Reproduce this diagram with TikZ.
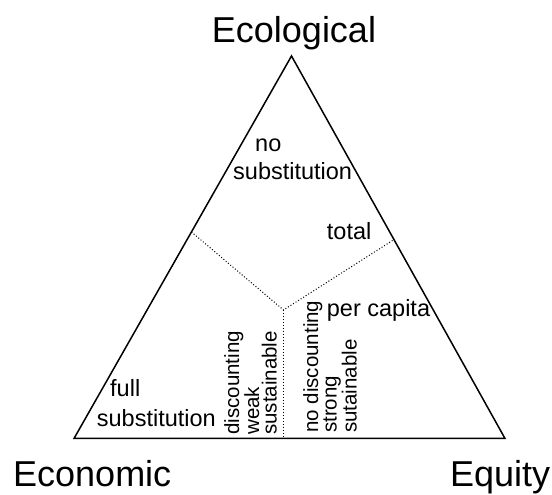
\documentclass[tikz,border=0pt]{standalone}
\usepackage{fontspec}
\setmainfont{Liberation Sans}
\usetikzlibrary{calc}

\begin{document}
\begin{tikzpicture}[x=1pt,y=1pt,
    side/.style={line width=1.5pt, line join=miter},
    split/.style={dotted, line width=1pt},
    corner/.style={font=\fontsize{36}{40}\selectfont, inner sep=0pt},
    lbl/.style={font=\fontsize{23.5}{28}\selectfont, inner sep=0pt},
    vlbl/.style={font=\fontsize{20.5}{17.5}\selectfont, inner sep=0pt, rotate=90, align=left, anchor=north west}]

        \useasboundingbox (0,0) rectangle (552,495);

        % corners of the triangle
        \coordinate (eco) at (74,56.5);
        \coordinate (equ) at (505,56.5);
        \coordinate (top) at (291.5,439);
        \draw[side] (eco) -- (equ) -- (top) -- cycle;

        % dotted split into three regions
        \coordinate (mid) at (283.5,185);
        \coordinate (lside) at ($(eco)!0.54!(top)$);
        \coordinate (rside) at ($(equ)!0.52!(top)$);
        \coordinate (base) at (283.5,56.5);
        \draw[split] (lside) -- (mid) -- (rside);
        \draw[split] (mid) -- (base);

        % corner names
        \node[corner, anchor=base] (ecol) at (294,452) {Ecological};
        \node[corner, anchor=base west] (econ) at (13,8) {Economic};
        \node[corner, anchor=base west] (eqty) at (450,8) {Equity};

        % region labels
        \node[lbl, anchor=base west] (no) at (255,343.3) {no};
        \node[lbl, anchor=base west] (nosub) at (233,315) {substitution};
        \node[lbl, anchor=base west] (total) at (326.7,255) {total};
        \node[lbl, anchor=base west] (percap) at (326.7,178.3) {per capita};
        \node[lbl, anchor=base west] (full) at (110,98.3) {full};
        \node[lbl, anchor=base west] (fullsub) at (96.7,68.3) {substitution};

        \node[vlbl] (weak) at (224,60) {discounting\\weak\\sustainable};
        \node[vlbl] (strong) at (303,62) {no discounting\\strong\\sutainable};

\end{tikzpicture}
\end{document}
